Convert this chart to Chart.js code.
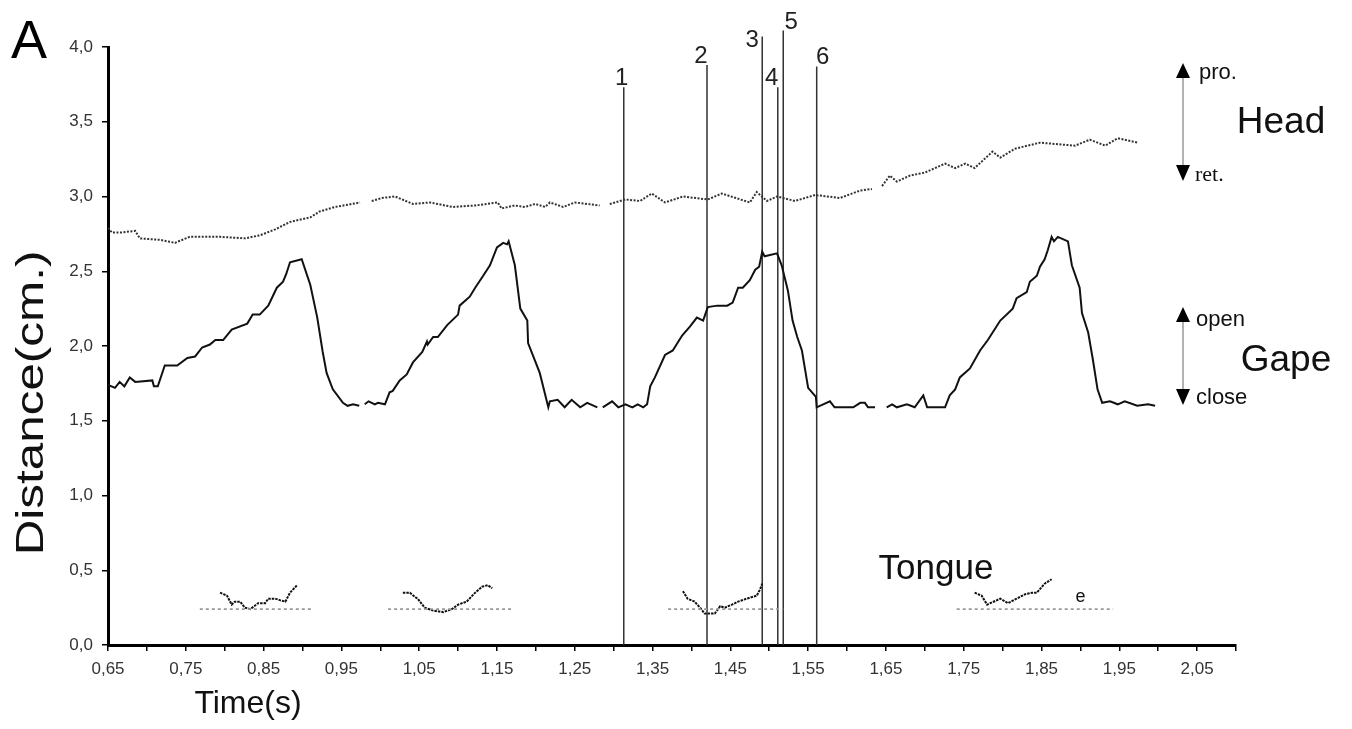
<!DOCTYPE html>
<html>
<head>
<meta charset="utf-8">
<title>Head, gape and tongue distance over time</title>
<script src="https://cdn.jsdelivr.net/npm/chart.js@4.4.1/dist/chart.umd.min.js"></script>
<style>
  html, body { margin: 0; padding: 0; background: #fff; }
  #wrap { width: 1352px; height: 729px; }
</style>
</head>
<body>
<div id="wrap"><canvas id="chart" width="1352" height="729"></canvas></div>
<script>
// axis ticks
const timeTicks = [0.65, 0.70, 0.75, 0.80, 0.85, 0.90, 0.95, 1.00, 1.05, 1.10, 1.15, 1.20, 1.25, 1.30, 1.35,
  1.40, 1.45, 1.50, 1.55, 1.60, 1.65, 1.70, 1.75, 1.80, 1.85, 1.90, 1.95, 2.00, 2.05, 2.10];
const timeLabels = ['0,65', '', '0,75', '', '0,85', '', '0,95', '', '1,05', '', '1,15', '', '1,25', '', '1,35',
  '', '1,45', '', '1,55', '', '1,65', '', '1,75', '', '1,85', '', '1,95', '', '2,05', ''];
const distTicks = [0, 0.5, 1.0, 1.5, 2.0, 2.5, 3.0, 3.5, 4.0];
const distLabels = ['0,0', '0,5', '1,0', '1,5', '2,0', '2,5', '3,0', '3,5', '4,0'];

// head (dotted), null = gap in the trace
const headTime = [0.650, 0.655, 0.668, 0.685, 0.691, 0.717, 0.736, 0.755, 0.794, 0.826, 0.845, 0.865, 0.884, 0.910,
  0.922, 0.942, 0.974, 0.981, 0.989, 1.002, 1.019, 1.042, 1.064, 1.093, 1.122, 1.151, 1.156, 1.173, 1.186, 1.199,
  1.212, 1.218, 1.235, 1.250, 1.282, 1.288, 1.295, 1.315, 1.334, 1.349, 1.366, 1.389, 1.421, 1.439, 1.475, 1.484,
  1.497, 1.510, 1.533, 1.559, 1.591, 1.617, 1.632, 1.638, 1.645, 1.655, 1.664, 1.681, 1.700, 1.726, 1.739, 1.752,
  1.764, 1.787, 1.797, 1.816, 1.848, 1.893, 1.912, 1.932, 1.948, 1.974];
const headDist = [2.79, 2.76, 2.76, 2.77, 2.72, 2.71, 2.69, 2.73, 2.73, 2.72, 2.74, 2.78, 2.83, 2.86,
  2.90, 2.93, 2.96, null, 2.97, 2.99, 3.00, 2.95, 2.96, 2.93, 2.94, 2.96, 2.92, 2.94, 2.93, 2.95,
  2.93, 2.96, 2.93, 2.96, 2.94, null, 2.95, 2.98, 2.97, 3.02, 2.96, 3.00, 2.98, 3.02, 2.96, 3.03,
  2.97, 3.00, 2.97, 3.01, 2.99, 3.04, 3.05, null, 3.07, 3.14, 3.10, 3.14, 3.16, 3.22, 3.19, 3.22,
  3.19, 3.30, 3.26, 3.32, 3.36, 3.34, 3.38, 3.34, 3.39, 3.36];

// gape (solid)
const gapeTime = [0.650, 0.659, 0.665, 0.671, 0.678, 0.685, 0.707, 0.709, 0.714, 0.723, 0.739, 0.752, 0.762, 0.771,
  0.781, 0.788, 0.798, 0.809, 0.829, 0.836, 0.845, 0.856, 0.867, 0.875, 0.879, 0.884, 0.899, 0.910, 0.919, 0.926,
  0.931, 0.939, 0.952, 0.958, 0.965, 0.973, 0.977, 0.980, 0.985, 0.993, 0.997, 1.006, 1.012, 1.016, 1.025, 1.034,
  1.042, 1.054, 1.060, 1.061, 1.068, 1.074, 1.086, 1.100, 1.102, 1.115, 1.122, 1.131, 1.141, 1.150, 1.158, 1.163,
  1.165, 1.173, 1.180, 1.189, 1.190, 1.205, 1.216, 1.218, 1.228, 1.237, 1.246, 1.257, 1.266, 1.279, 1.283, 1.286,
  1.298, 1.306, 1.315, 1.324, 1.331, 1.338, 1.343, 1.347, 1.353, 1.366, 1.376, 1.388, 1.398, 1.407, 1.415, 1.421,
  1.433, 1.446, 1.453, 1.460, 1.466, 1.475, 1.482, 1.487, 1.491, 1.494, 1.510, 1.516, 1.524, 1.530, 1.536, 1.542,
  1.550, 1.560, 1.561, 1.578, 1.584, 1.608, 1.617, 1.623, 1.627, 1.636, 1.644, 1.651, 1.658, 1.664, 1.677, 1.687,
  1.698, 1.703, 1.726, 1.732, 1.739, 1.745, 1.758, 1.771, 1.781, 1.797, 1.813, 1.818, 1.831, 1.835, 1.844, 1.848,
  1.854, 1.858, 1.863, 1.866, 1.871, 1.884, 1.889, 1.899, 1.902, 1.910, 1.916, 1.922, 1.928, 1.938, 1.948, 1.957,
  1.973, 1.987, 1.996];
const gapeDist = [1.74, 1.72, 1.76, 1.73, 1.79, 1.76, 1.77, 1.73, 1.73, 1.87, 1.87, 1.92, 1.93, 1.99,
  2.01, 2.04, 2.04, 2.11, 2.15, 2.21, 2.21, 2.27, 2.39, 2.43, 2.48, 2.56, 2.58, 2.41, 2.19, 1.96,
  1.82, 1.71, 1.62, 1.60, 1.61, 1.60, null, 1.61, 1.63, 1.61, 1.62, 1.61, 1.69, 1.70, 1.77, 1.81,
  1.89, 1.96, 2.03, 2.01, 2.06, 2.06, 2.14, 2.21, 2.27, 2.33, 2.39, 2.46, 2.54, 2.66, 2.69, 2.68,
  2.70, 2.54, 2.25, 2.17, 2.02, 1.82, 1.59, 1.63, 1.64, 1.59, 1.64, 1.59, 1.62, 1.59, null, 1.59,
  1.63, 1.59, 1.61, 1.59, 1.61, 1.59, 1.61, 1.73, 1.79, 1.94, 1.97, 2.07, 2.13, 2.19, 2.17, 2.26,
  2.27, 2.27, 2.29, 2.39, 2.39, 2.44, 2.51, 2.53, 2.63, 2.60, 2.62, 2.54, 2.37, 2.17, 2.06, 1.97,
  1.72, 1.66, 1.59, 1.63, 1.59, 1.59, 1.62, 1.62, 1.59, 1.59, null, 1.59, 1.61, 1.59, 1.61, 1.59,
  1.67, 1.59, 1.59, 1.67, 1.71, 1.79, 1.85, 1.97, 2.04, 2.17, 2.25, 2.32, 2.36, 2.43, 2.47, 2.53,
  2.58, 2.64, 2.73, 2.70, 2.73, 2.70, 2.54, 2.39, 2.22, 2.09, 1.91, 1.71, 1.62, 1.63, 1.61, 1.63,
  1.60, 1.61, 1.60];

// tongue (dotted black) and its rest level (grey dashes)
const tongueTime = [0.794, 0.803, 0.809, 0.813, 0.820, 0.826, 0.833, 0.843, 0.852, 0.856, 0.865, 0.871, 0.878, 0.884, 0.893,
  0.95,
  1.029, 1.038, 1.045, 1.048, 1.057, 1.068, 1.081, 1.092, 1.100, 1.111, 1.122, 1.131, 1.138, 1.144,
  1.25,
  1.389, 1.395, 1.404, 1.411, 1.417, 1.430, 1.437, 1.443, 1.452, 1.460, 1.471, 1.484, 1.488, 1.491,
  1.60,
  1.764, 1.773, 1.780, 1.797, 1.807, 1.818, 1.829, 1.838, 1.844, 1.854, 1.863];
const tongueDist = [0.35, 0.33, 0.27, 0.29, 0.29, 0.25, 0.24, 0.28, 0.28, 0.31, 0.31, 0.30, 0.29, 0.35, 0.40,
  null,
  0.35, 0.35, 0.32, 0.31, 0.25, 0.23, 0.22, 0.24, 0.27, 0.29, 0.35, 0.39, 0.40, 0.38,
  null,
  0.36, 0.31, 0.29, 0.25, 0.21, 0.21, 0.26, 0.25, 0.27, 0.29, 0.31, 0.33, 0.37, 0.41,
  null,
  0.35, 0.33, 0.27, 0.31, 0.28, 0.31, 0.34, 0.35, 0.35, 0.41, 0.44];
const restTime = [0.768, 0.913, 0.96, 1.010, 1.169, 1.27, 1.370, 1.518, 1.63, 1.741, 1.942];
const restDist = [0.24, 0.24, null, 0.24, 0.24, null, 0.24, 0.24, null, 0.24, 0.24];

// numbered event markers
const markerTime = [1.313, 1.420, 1.491, 1.511, 1.518, 1.561];
const markerTop = [3.73, 3.88, 4.07, 3.73, 4.11, 3.87];
const markerLabels = ['1', '2', '3', '4', '5', '6'];
const markerLabelShift = [[-2, -9], [-6, -9], [-10, 4], [-6, -9], [8, -8], [6, -9]];

const pts = (xs, ys) => xs.map((x, i) => ({ x: x, y: ys[i] }));

const markerPts = [];
markerTime.forEach((t, i) => {
  markerPts.push({ x: t, y: 0 }, { x: t, y: markerTop[i] }, { x: t, y: null });
});

const SANS = "'Liberation Sans', Arial, sans-serif";
const SERIF = "'Liberation Serif', 'Times New Roman', serif";

function drawText(ctx, str, x, y, font, opt) {
  opt = opt || {};
  ctx.save();
  ctx.translate(x, y);
  if (opt.rotate) ctx.rotate(opt.rotate);
  if (opt.sx) ctx.scale(opt.sx, 1);
  ctx.font = font;
  ctx.fillStyle = opt.color || '#111';
  ctx.textAlign = opt.align || 'center';
  ctx.textBaseline = 'middle';
  ctx.fillText(str, 0, 0);
  ctx.restore();
}

function drawArrow(ctx, x, yTop, yBottom) {
  ctx.save();
  ctx.strokeStyle = '#999';
  ctx.lineWidth = 1.5;
  ctx.beginPath();
  ctx.moveTo(x, yTop + 10);
  ctx.lineTo(x, yBottom - 10);
  ctx.stroke();
  ctx.fillStyle = '#000';
  ctx.beginPath();
  ctx.moveTo(x, yTop);
  ctx.lineTo(x - 7, yTop + 15);
  ctx.lineTo(x + 7, yTop + 15);
  ctx.fill();
  ctx.beginPath();
  ctx.moveTo(x, yBottom);
  ctx.lineTo(x - 7, yBottom - 16);
  ctx.lineTo(x + 7, yBottom - 16);
  ctx.fill();
  ctx.restore();
}

const annotations = {
  id: 'annotations',
  afterDraw(chart) {
    const ctx = chart.ctx;
    const xs = chart.scales.x;
    const ys = chart.scales.y;
    const area = chart.chartArea;

    // marker numbers
    markerTime.forEach((t, i) => {
      const px = xs.getPixelForValue(t) + markerLabelShift[i][0];
      const py = ys.getPixelForValue(markerTop[i]) + markerLabelShift[i][1];
      drawText(ctx, markerLabels[i], px, py, '24px ' + SANS, { color: '#222' });
    });

    // panel letter and axis titles
    drawText(ctx, 'A', 29, 43, '54px ' + SANS, { color: '#000' });
    drawText(ctx, 'Distance(cm.)', 33, 403, '38px ' + SANS, { rotate: -Math.PI / 2, sx: 1.3, color: '#111' });
    drawText(ctx, 'Time(s)', 248, 704, '32px ' + SANS, { color: '#111' });

    // series names and direction arrows on the right
    const ax = area.right - 53;
    drawArrow(ctx, ax, 63, 181);
    drawText(ctx, 'pro.', ax + 16, 73, '22px ' + SANS, { align: 'left' });
    drawText(ctx, 'ret.', ax + 12, 175, '22px ' + SERIF, { align: 'left' });
    drawText(ctx, 'Head', ax + 98, 123, '37px ' + SANS);

    drawArrow(ctx, ax, 307, 405);
    drawText(ctx, 'open', ax + 13, 320, '22px ' + SANS, { align: 'left' });
    drawText(ctx, 'close', ax + 13, 398, '22px ' + SANS, { align: 'left' });
    drawText(ctx, 'Gape', ax + 103, 361, '37px ' + SANS);

    drawText(ctx, 'Tongue', 936, 569, '35px ' + SANS);
    drawText(ctx, 'e', xs.getPixelForValue(1.9), 597, '18px ' + SANS);
  }
};

new Chart(document.getElementById('chart'), {
  type: 'line',
  data: {
    datasets: [
      {
        label: 'Head',
        data: pts(headTime, headDist),
        borderColor: '#333',
        borderWidth: 2,
        borderDash: [2, 1.5],
        pointRadius: 0,
        spanGaps: false
      },
      {
        label: 'Gape',
        data: pts(gapeTime, gapeDist),
        borderColor: '#111',
        borderWidth: 2,
        pointRadius: 0,
        spanGaps: false
      },
      {
        label: 'Tongue rest',
        data: pts(restTime, restDist),
        borderColor: '#999',
        borderWidth: 1.8,
        borderDash: [3, 3],
        pointRadius: 0,
        spanGaps: false
      },
      {
        label: 'Tongue',
        data: pts(tongueTime, tongueDist),
        borderColor: '#111',
        borderWidth: 2,
        borderDash: [2.5, 1],
        pointRadius: 0,
        spanGaps: false
      },
      {
        label: 'Events',
        data: markerPts,
        borderColor: '#333',
        borderWidth: 1.5,
        pointRadius: 0,
        spanGaps: false,
        clip: false
      }
    ]
  },
  options: {
    responsive: false,
    animation: false,
    devicePixelRatio: 1,
    layout: { padding: { left: 0, top: 47, right: 116, bottom: 0 } },
    plugins: {
      legend: { display: false },
      tooltip: { enabled: false }
    },
    scales: {
      x: {
        type: 'linear',
        min: 0.65,
        max: 2.10,
        afterBuildTicks: (scale) => { scale.ticks = timeTicks.map(v => ({ value: v })); },
        afterFit: (scale) => { scale.height = 84; },
        border: { color: '#000', width: 3 },
        grid: { drawOnChartArea: false, drawTicks: true, tickLength: 6, color: '#000', lineWidth: 1.5 },
        ticks: {
          autoSkip: false,
          maxRotation: 0,
          padding: 8,
          color: '#333',
          font: { family: SANS, size: 17 },
          callback: (v, i) => timeLabels[i]
        }
      },
      y: {
        type: 'linear',
        min: 0,
        max: 4,
        afterBuildTicks: (scale) => { scale.ticks = distTicks.map(v => ({ value: v })); },
        afterFit: (scale) => { scale.width = 108; },
        border: { color: '#000', width: 3 },
        grid: { drawOnChartArea: false, drawTicks: true, tickLength: 6, color: '#000', lineWidth: 1.5 },
        ticks: {
          padding: 9,
          color: '#333',
          font: { family: SANS, size: 17 },
          callback: (v, i) => distLabels[i]
        }
      }
    }
  },
  plugins: [annotations]
});
</script>
</body>
</html>
